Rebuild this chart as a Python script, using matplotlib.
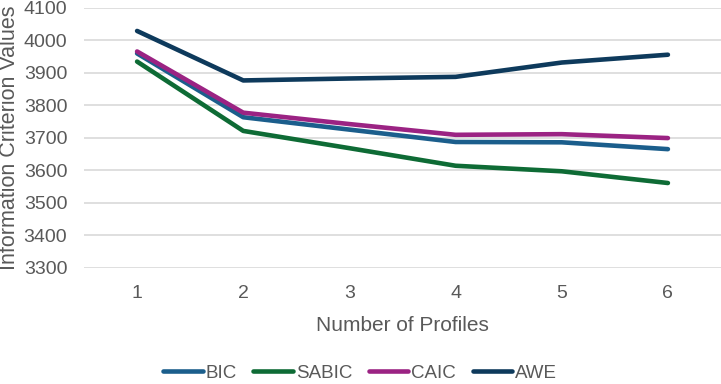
import matplotlib.pyplot as plt

profiles = [1, 2, 3, 4, 5, 6]
bic = [3959, 3763, 3725, 3687, 3686, 3665]
sabic = [3934, 3721, 3668, 3614, 3597, 3561]
caic = [3965, 3777, 3742, 3709, 3711, 3699]
awe = [4028, 3876, 3882, 3887, 3931, 3955]

series = [('BIC', bic, '#1b5e8c'),
          ('SABIC', sabic, '#0e6b35'),
          ('CAIC', caic, '#9b2383'),
          ('AWE', awe, '#0e3a5c')]

grey = '#595959'
plt.rcParams['font.family'] = ['Liberation Sans', 'DejaVu Sans']

fig = plt.figure(figsize=(7.21, 3.84), dpi=100)
ax = fig.add_axes([84/721, 1-268/384, 1-84/721, (268-7.5)/384])

for name, vals, col in series:
    ax.plot(profiles, vals, color=col, lw=3.3, label=name,
            solid_capstyle='round', solid_joinstyle='round')

ax.set_xlim(0.5, 6.5)
ax.set_ylim(3300, 4100)
ax.set_yticks(range(3300, 4101, 100))
ax.set_xticks(profiles)
ax.grid(axis='y', color='#d9d9d9', lw=1.2)
ax.set_axisbelow(True)
for s in ax.spines.values():
    s.set_visible(False)
ax.tick_params(length=0, colors=grey, labelsize=14)
ax.tick_params(axis='y', pad=12)
ax.tick_params(axis='x', pad=12)

ax.set_xlabel('Number of Profiles', color=grey, fontsize=15, labelpad=10)
ax.set_ylabel('Information Criterion Values', color=grey, fontsize=15.5)
ax.yaxis.set_label_coords(-84/721 + 11/721, 0.5)

fig.legend(loc='center', bbox_to_anchor=(360/721, 1-373/384), ncol=4,
           frameon=False, fontsize=13.5, handlelength=2.1, handletextpad=0.15,
           columnspacing=0.9, labelcolor=grey, borderpad=0.2)

fig.savefig('out.png')
